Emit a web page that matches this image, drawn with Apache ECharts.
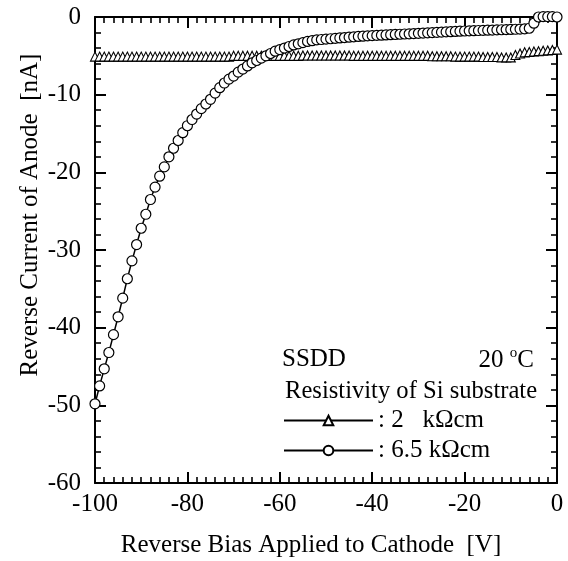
<!DOCTYPE html>
<html>
<head>
<meta charset="utf-8">
<script src="https://cdn.jsdelivr.net/npm/echarts@6/dist/echarts.min.js"></script>
<style>
  html, body { margin: 0; padding: 0; background: #fff; }
  #main { width: 568px; height: 561px; }
</style>
</head>
<body>
<div id="main"></div>
<script>
// bias voltage [V], one reading per volt
const biasV = [
  -100, -99, -98, -97, -96, -95, -94, -93, -92, -91,
  -90, -89, -88, -87, -86, -85, -84, -83, -82, -81,
  -80, -79, -78, -77, -76, -75, -74, -73, -72, -71,
  -70, -69, -68, -67, -66, -65, -64, -63, -62, -61,
  -60, -59, -58, -57, -56, -55, -54, -53, -52, -51,
  -50, -49, -48, -47, -46, -45, -44, -43, -42, -41,
  -40, -39, -38, -37, -36, -35, -34, -33, -32, -31,
  -30, -29, -28, -27, -26, -25, -24, -23, -22, -21,
  -20, -19, -18, -17, -16, -15, -14, -13, -12, -11,
  -10, -9, -8, -7, -6, -5, -4, -3, -2, -1, 0
];

// 2 kOhm cm substrate [nA]
const current2k = [
  -5.1, -5.1, -5.1, -5.1, -5.1, -5.1, -5.1, -5.1, -5.1, -5.1,
  -5.1, -5.1, -5.1, -5.1, -5.1, -5.1, -5.1, -5.1, -5.1, -5.1,
  -5.1, -5.1, -5.1, -5.1, -5.1, -5.1, -5.1, -5.1, -5.1, -5.1,
  -5.0, -5.0, -5.0, -5.0, -5.0, -5.0, -5.0, -5.0, -5.0, -5.0,
  -5.0, -5.0, -5.0, -5.0, -5.0, -4.95, -4.95, -4.95, -4.95, -4.95,
  -4.95, -4.95, -4.95, -4.95, -4.95, -4.95, -5.0, -5.0, -5.0, -5.0,
  -5.0, -5.0, -5.0, -5.0, -5.0, -5.0, -5.0, -5.0, -5.0, -5.0,
  -5.0, -5.0, -5.0, -5.05, -5.05, -5.05, -5.05, -5.05, -5.1, -5.1,
  -5.1, -5.1, -5.1, -5.1, -5.15, -5.15, -5.15, -5.15, -5.2, -5.2,
  -5.2, -4.9, -4.7, -4.55, -4.5, -4.45, -4.4, -4.35, -4.3, -4.25, -4.2
];

// 6.5 kOhm cm substrate [nA]
const current65k = [
  -49.8, -47.5, -45.3, -43.2, -40.9, -38.6, -36.2, -33.7, -31.4, -29.3,
  -27.2, -25.4, -23.5, -21.9, -20.5, -19.3, -18.0, -16.9, -15.9, -14.9,
  -14.0, -13.2, -12.5, -11.8, -11.2, -10.6, -9.8, -9.1, -8.5, -8.0,
  -7.6, -7.1, -6.7, -6.3, -5.9, -5.6, -5.3, -5.0, -4.7, -4.4,
  -4.2, -4.0, -3.8, -3.6, -3.45, -3.3, -3.15, -3.05, -2.95, -2.9,
  -2.85, -2.8, -2.75, -2.7, -2.65, -2.6, -2.55, -2.5, -2.47, -2.43,
  -2.4, -2.37, -2.34, -2.31, -2.28, -2.25, -2.22, -2.19, -2.16, -2.13,
  -2.1, -2.07, -2.04, -2.01, -1.98, -1.95, -1.92, -1.89, -1.86, -1.83,
  -1.8, -1.78, -1.76, -1.74, -1.72, -1.7, -1.68, -1.66, -1.64, -1.62,
  -1.6, -1.58, -1.55, -1.52, -1.45, -0.8, 0, 0.05, 0.05, 0.05, 0
];

const seriesNames = [': 2   k\u03A9cm', ': 6.5 k\u03A9cm'];
const xTicks = { min: -100, max: 0, step: 20 };
const yTicks = { min: -60, max: 0, step: 10 };

const font = 'Liberation Serif';
const fsz = 25;
const chart = echarts.init(document.getElementById('main'));

const axisBase = {
  type: 'value',
  axisLine: { show: true, onZero: false, lineStyle: { color: '#000', width: 2 } },
  axisTick: { show: true, inside: true, length: 11, lineStyle: { color: '#000', width: 2 } },
  minorTick: { show: true, length: 6, lineStyle: { color: '#000', width: 1.6 } },
  splitLine: { show: false }
};

function pairs(ys) {
  return biasV.map((v, i) => [v, ys[i]]);
}

// mirror axes need a (blank) label so their minor ticks are drawn
const blankLabel = { show: true, formatter: () => '' };

const option = {
  animation: false,
  backgroundColor: '#fff',
  textStyle: { fontFamily: font, color: '#000' },
  grid: { left: 95, right: 8, top: 17, bottom: 78 },
  xAxis: [
    Object.assign({}, axisBase, {
      position: 'bottom',
      min: xTicks.min, max: xTicks.max, interval: xTicks.step,
      minorTick: Object.assign({}, axisBase.minorTick, { splitNumber: 10 }),
      axisLabel: { fontFamily: font, fontSize: fsz, color: '#000', margin: 9 }
    }),
    Object.assign({}, axisBase, {
      position: 'top',
      min: xTicks.min, max: xTicks.max, interval: xTicks.step,
      minorTick: Object.assign({}, axisBase.minorTick, { splitNumber: 10 }),
      axisLabel: blankLabel
    })
  ],
  yAxis: [
    Object.assign({}, axisBase, {
      position: 'left',
      min: yTicks.min, max: yTicks.max, interval: yTicks.step,
      minorTick: Object.assign({}, axisBase.minorTick, { splitNumber: 5 }),
      axisLabel: { fontFamily: font, fontSize: fsz, color: '#000', margin: 14 }
    }),
    Object.assign({}, axisBase, {
      position: 'right',
      min: yTicks.min, max: yTicks.max, interval: yTicks.step,
      minorTick: Object.assign({}, axisBase.minorTick, { splitNumber: 5 }),
      axisLabel: blankLabel
    })
  ],
  legend: {
    orient: 'vertical',
    left: 283,
    top: 408,
    padding: 0,
    itemWidth: 89,
    itemHeight: 12,
    itemGap: 5,
    selectedMode: false,
    textStyle: { fontFamily: font, fontSize: fsz, color: '#000' },
    data: seriesNames
  },
  series: [
    {
      name: seriesNames[0],
      type: 'line',
      data: pairs(current2k),
      symbol: 'triangle',
      symbolSize: [9, 9],
      clip: false,
      lineStyle: { color: '#000', width: 1.5 },
      itemStyle: { color: '#fff', borderColor: '#000', borderWidth: 1.1 }
    },
    {
      name: seriesNames[1],
      type: 'line',
      data: pairs(current65k),
      symbol: 'circle',
      symbolSize: 10,
      clip: false,
      lineStyle: { color: '#000', width: 1.5 },
      itemStyle: { color: '#fff', borderColor: '#000', borderWidth: 1.2 }
    }
  ],
  graphic: [
    {
      type: 'text', x: 30, y: 215, rotation: Math.PI / 2,
      style: { text: 'Reverse Current of Anode  [nA]', font: fsz + 'px "Liberation Serif"',
               fill: '#000', align: 'center', verticalAlign: 'middle' }
    },
    {
      type: 'text', x: 311, y: 545,
      style: { text: 'Reverse Bias Applied to Cathode  [V]', font: fsz + 'px "Liberation Serif"',
               fill: '#000', align: 'center', verticalAlign: 'middle' }
    },
    {
      type: 'text', x: 282, y: 359,
      style: { text: 'SSDD', font: fsz + 'px "Liberation Serif"', fill: '#000',
               align: 'left', verticalAlign: 'middle' }
    },
    {
      type: 'text', x: 534, y: 359,
      style: {
        text: '{a|20 }{s|o}{a|C}', align: 'right', verticalAlign: 'middle',
        rich: {
          a: { fontFamily: font, fontSize: fsz, fill: '#000', lineHeight: 27, verticalAlign: 'bottom' },
          s: { fontFamily: font, fontSize: 15, fill: '#000', lineHeight: 27, verticalAlign: 'top' }
        }
      }
    },
    {
      type: 'text', x: 285, y: 392,
      style: { text: 'Resistivity of Si substrate', font: '24.6px "Liberation Serif"', fill: '#000',
               align: 'left', verticalAlign: 'middle' }
    }
  ]
};

chart.setOption(option);
</script>
</body>
</html>
